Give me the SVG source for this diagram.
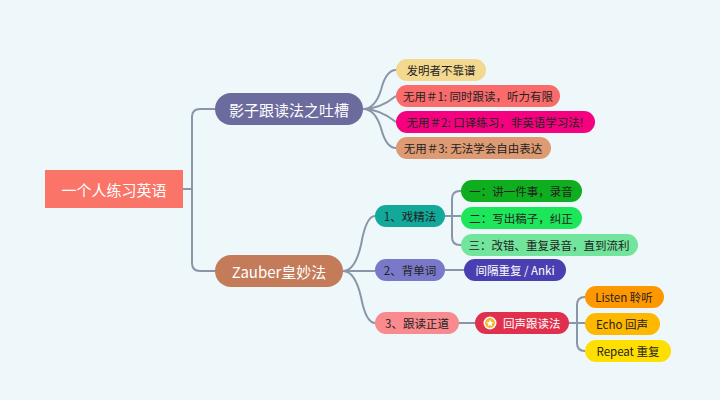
<svg xmlns="http://www.w3.org/2000/svg" width="720" height="400" viewBox="0 0 720 400">
<style>
text{font-family:"Noto Sans CJK SC","Noto Sans",sans-serif;dominant-baseline:central;}
.s{font-size:11.5px;fill:#222;}
.w{fill:#fff;}
.b{font-size:15px;fill:#fff;}
#c path{fill:none;stroke:#8a96a8;stroke-width:2;}
</style>
<rect width="720" height="400" fill="#eef7fa"/>
<g id="c">
<path d="M183,189 H192 M200,109 Q192,109 192,117 V263 Q192,271 200,271 H215 M200,109 H215"/>
<path d="M363,109 Q375,109 381,90 Q386,70 396,70 M363,109 Q380,109 396,96 M363,109 Q380,109 396,122 M363,109 Q375,109 381,128 Q386,148 396,148"/>
<path d="M343,271 Q355,271 361,245 Q366,216 375,216 M343,271 H375 M343,271 Q355,271 361,297 Q366,323 375,323"/>
<path d="M445,216 H461 M461,191 H460 Q452,191 452,199 V237 Q452,245 460,245 H461"/>
<path d="M445,270 H464"/>
<path d="M459,323 H475"/>
<path d="M569,323 H585 M585,297 Q577,297 577,305 V343 Q577,351 585,351"/>
</g>
<g id="root"><rect x="45" y="170" width="138" height="38" fill="#fa7468"/><text x="114" y="189" text-anchor="middle" class="b">一个人练习英语</text></g>
<g id="n1"><rect x="215" y="93" width="148" height="32" rx="16" fill="#6c6b9e"/><text x="289" y="109" text-anchor="middle" class="b">影子跟读法之吐槽</text></g>
<g id="n2"><rect x="215" y="255" width="128" height="32" rx="16" fill="#c47b5a"/><text x="279" y="271" text-anchor="middle" class="b">Zauber皇妙法</text></g>
<g id="a1"><rect x="396" y="59" width="90" height="22" rx="11" fill="#f2d98f"/><text x="441" y="70" text-anchor="middle" class="s" fill="#555">发明者不靠谱</text></g>
<g id="a2"><rect x="396" y="85" width="164" height="22" rx="11" fill="#fa6b6b"/><text x="478" y="96" text-anchor="middle" class="s">无用＃1: 同时跟读，听力有限</text></g>
<g id="a3"><rect x="396" y="111" width="199" height="22" rx="11" fill="#f5007e"/><text x="495" y="122" text-anchor="middle" class="s">无用＃2: 口译练习，非英语学习法!</text></g>
<g id="a4"><rect x="396" y="137" width="155" height="22" rx="11" fill="#de9a72"/><text x="473" y="148" text-anchor="middle" class="s">无用＃3: 无法学会自由表达</text></g>
<g id="b1"><rect x="375" y="205" width="70" height="22" rx="11" fill="#12a89a"/><text x="410" y="216" text-anchor="middle" class="s">1、戏精法</text></g>
<g id="b2"><rect x="375" y="259" width="70" height="22" rx="11" fill="#7a78c8"/><text x="410" y="270" text-anchor="middle" class="s">2、背单词</text></g>
<g id="b3"><rect x="375" y="312" width="84" height="22" rx="11" fill="#f98a8e"/><text x="417" y="323" text-anchor="middle" class="s">3、跟读正道</text></g>
<g id="c1"><rect x="461" y="180" width="121" height="22" rx="11" fill="#0eae1e"/><text x="521" y="191" text-anchor="middle" class="s">一：讲一件事，录音</text></g>
<g id="c2"><rect x="461" y="207" width="121" height="22" rx="11" fill="#1de65a"/><text x="521" y="218" text-anchor="middle" class="s">二：写出稿子，纠正</text></g>
<g id="c3"><rect x="461" y="234" width="177" height="22" rx="11" fill="#72e59c"/><text x="549" y="245" text-anchor="middle" class="s">三：改错、重复录音，直到流利</text></g>
<g id="d1"><rect x="464" y="259" width="102" height="22" rx="11" fill="#4a3fb0"/><text x="515" y="270" text-anchor="middle" class="s w">间隔重复 / Anki</text></g>
<g id="e1"><rect x="475" y="312" width="94" height="22" rx="11" fill="#e0304e"/><circle cx="490" cy="323" r="6.5" fill="#fff"/><circle cx="490" cy="323" r="5" fill="#f7b733"/><path d="M490,319.5 L491,322 L493.5,322.2 L491.6,323.8 L492.2,326.3 L490,325 L487.8,326.3 L488.4,323.8 L486.5,322.2 L489,322 Z" fill="#fff"/><text x="503" y="323" class="s w">回声跟读法</text></g>
<g id="f1"><rect x="585" y="286" width="79" height="22" rx="11" fill="#ff9800"/><text x="624" y="297" text-anchor="middle" class="s">Listen 聆听</text></g>
<g id="f2"><rect x="585" y="313" width="75" height="22" rx="11" fill="#ffb800"/><text x="622" y="324" text-anchor="middle" class="s">Echo 回声</text></g>
<g id="f3"><rect x="585" y="340" width="86" height="22" rx="11" fill="#ffdf00"/><text x="628" y="351" text-anchor="middle" class="s">Repeat 重复</text></g>
</svg>
